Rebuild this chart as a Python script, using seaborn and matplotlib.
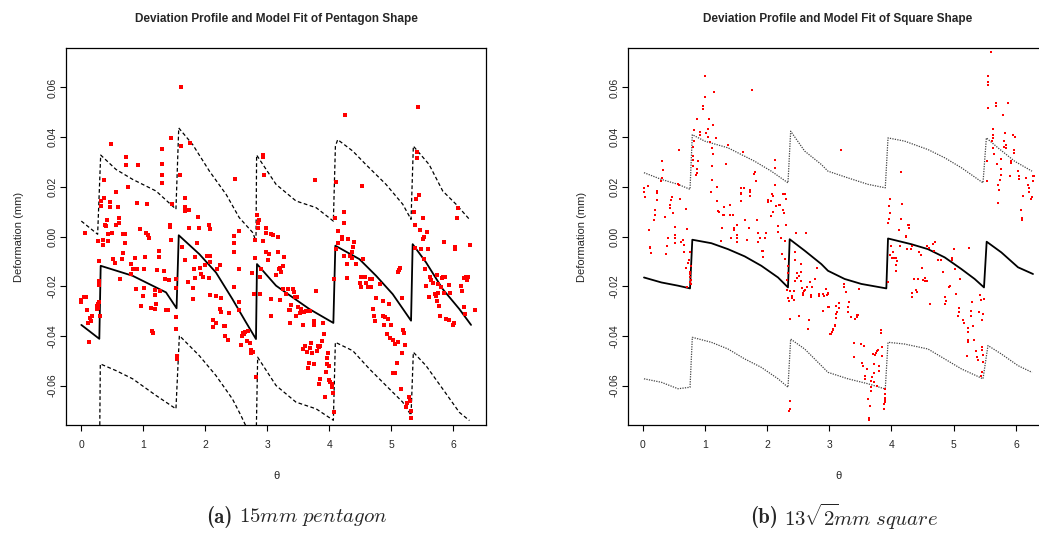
import matplotlib
matplotlib.use("Agg")
import matplotlib.pyplot as plt
import numpy as np
import pandas as pd
import seaborn as sns

# ---------------- data: pentagon (a) ----------------
pent_fit_x = [0.005, 0.295, 0.317, 0.83, 1.37, 1.54, 1.575, 1.907, 2.175, 2.44, 2.66, 2.82,
              2.836, 3.143, 3.41, 3.68, 4.067, 4.099, 4.486, 4.755, 5.023, 5.319,
              5.345, 5.56, 5.83, 6.097, 6.286]
pent_fit_y = [-0.0356, -0.0412, -0.0118, -0.0158, -0.0225, -0.0289, 0.0005, -0.0071, -0.0145, -0.0252, -0.0346, -0.0413,
              -0.0111, -0.0198, -0.0245, -0.0292, -0.0348, -0.0037, -0.0091, -0.0158, -0.0232, -0.0339,
              -0.0031, -0.0104, -0.0212, -0.0292, -0.0356]

pent_up_x = [0.005, 0.268, 0.317, 0.564, 0.832, 1.21, 1.53, 1.575, 1.8, 2.07, 2.34, 2.55, 2.77, 2.82,
             2.83, 3.143, 3.465, 3.79, 4.067, 4.10, 4.137, 4.38, 4.59, 4.915, 5.185, 5.319,
             5.356, 5.61, 5.83, 6.044, 6.26]
pent_up_y = [0.0062, 0.0009, 0.0328, 0.0270, 0.0230, 0.0183, 0.0110, 0.0437, 0.0370, 0.0263, 0.0169, 0.0076, 0.0015, -0.002,
             0.0328, 0.0210, 0.0143, 0.0116, 0.0062, 0.0364, 0.0390, 0.0344, 0.0290, 0.0210, 0.0130, 0.0069,
             0.0364, 0.0290, 0.0183, 0.0130, 0.0069]

pent_lo_x = [0.005, 0.30, 0.311, 0.564, 0.832, 1.208, 1.53, 1.585, 1.907, 2.175, 2.44, 2.578, 2.82,
             2.847, 3.143, 3.465, 3.79, 4.067, 4.099, 4.38, 4.647, 4.915, 5.185, 5.319,
             5.356, 5.56, 5.83, 6.097, 6.26]
pent_lo_y = [-0.078, -0.084, -0.0513, -0.0540, -0.0573, -0.0640, -0.0694, -0.0399, -0.0480, -0.0560, -0.0654, -0.0721, -0.085,
             -0.0486, -0.0600, -0.0667, -0.0694, -0.0740, -0.0426, -0.0460, -0.0533, -0.0600, -0.0667, -0.0720,
             -0.0466, -0.0520, -0.0614, -0.0708, -0.0741]

pent_pts_x = [
    1.617, 0.489, 1.456, 1.311, 0.730, 0.730, 0.924, 1.311, 1.311, 1.311, 1.601, 1.606, 1.762, 0.376, 0.569,
    0.763, 0.327, 0.376, 0.472, 0.472, 0.601, 0.908, 1.069, 1.472, 1.681, 1.681, 1.681, 1.746, 0.424, 0.618,
    0.618, 0.569, 0.392, 0.408, 0.327, 0.070, 0.440, 0.505, 0.682, 0.714, 0.956, 1.053, 1.085, 1.439, 1.439,
    1.746, 1.907, 1.891, 2.068, 2.084, 2.487, 2.551, 2.471, 2.938, 2.938, 2.954, 2.842, 2.874, 2.858, 2.858,
    2.987, 2.987, 3.067, 3.099,
    4.260, 5.437, 3.777, 4.115, 4.534, 5.421, 5.421, 5.453, 5.405, 4.244, 4.099, 4.244, 5.372, 5.517, 4.148,
    4.212, 5.388, 5.469, 5.582, 5.534, 6.065, 6.081, 3.170,
    0.279, 0.360, 0.440, 0.360, 0.714, 1.101, 1.450, 1.633, 1.864, 2.471, 2.809, 2.927, 0.671, 1.262, 0.295,
    0.521, 0.666, 0.865, 1.037, 1.262, 1.681, 1.842, 2.036, 2.084, 2.084, 2.245, 2.471, 2.551, 2.987, 3.035,
    3.019, 0.548, 0.806, 0.908, 0.838, 0.811, 1.020, 1.230, 1.343, 1.826, 1.923, 1.939, 2.197, 2.003, 2.809,
    2.761, 2.890, 2.906, 0.634, 1.359, 1.423, 1.531, 1.730, 1.842, 1.971, 2.068, 2.471, 0.295, 0.295, 0.891,
    1.020, 1.004, 1.198, 1.198, 1.278, 1.536, 1.810, 1.810, 2.084, 2.181, 2.261, 2.793, 2.890, 2.551, 3.067,
    0.005, 0.053, 0.086, 0.005, 0.268, 0.263, 0.279, 0.258, 0.295, 0.102, 0.182, 0.150, 0.166, 0.118, 0.972,
    1.133, 1.198, 1.214, 1.375, 1.407, 1.536, 2.245, 2.261, 2.390, 2.551, 3.067, 2.132, 2.181, 2.132, 2.310,
    2.326, 1.536, 1.149, 1.165, 2.326, 2.374, 2.616, 2.632, 2.648, 2.697, 2.600, 2.584, 2.681, 2.729, 0.134,
    2.745, 2.745, 2.777, 1.547, 1.547, 2.825, 0.300,
    3.181, 3.277, 3.261, 3.213, 3.197, 3.229, 3.148, 3.213, 3.261, 3.342, 3.422, 3.438, 3.310, 3.455, 3.487,
    3.793, 3.390, 3.358, 3.374, 3.503, 3.551, 3.535, 3.471, 3.374, 3.584, 3.761, 3.761, 3.906, 3.600, 3.632,
    3.696, 4.148, 4.115, 4.212, 4.309, 4.405, 4.389, 4.244, 4.341, 4.373, 4.373, 4.293, 4.550, 4.438, 4.083,
    4.293, 4.518, 4.583, 4.663, 4.695, 4.599, 4.502, 4.518, 4.631, 4.679, 4.824, 4.760, 4.873, 4.969, 4.712,
    4.728, 4.744, 4.873, 4.905, 4.953, 4.889, 5.002, 4.937, 4.986, 5.034, 5.066, 5.115, 5.227, 5.131, 5.147,
    5.115, 5.179, 5.195, 5.211, 3.917, 3.890, 3.712, 3.616, 3.584, 3.696, 3.648, 3.729, 3.809, 3.841, 3.857,
    3.825, 3.986, 3.970, 3.680, 3.761, 3.664, 3.970, 4.003, 3.954, 3.857, 4.003, 3.841, 4.019, 4.051, 4.051,
    4.067, 3.938, 4.083, 5.179, 5.098, 5.034, 5.066, 5.163, 5.292, 5.308, 5.260, 5.244, 5.324, 5.324, 5.517,
    5.856, 6.033, 6.033, 6.275, 5.388, 5.485, 5.598, 5.534, 5.550, 5.630, 5.566, 5.646, 5.743, 5.840, 5.872,
    5.824, 5.679, 5.759, 5.808, 5.936, 6.178, 6.210, 6.227, 6.243, 6.130, 6.146, 5.953, 5.856, 5.759, 5.727,
    5.614, 5.711, 5.743, 5.775, 5.791, 5.888, 5.936, 6.017, 6.001, 6.178, 6.194, 6.355,
]
pent_pts_y = [
    0.0601, 0.0372, 0.0396, 0.0352, 0.0319, 0.0287, 0.0286, 0.0291, 0.0247, 0.0215, 0.0247, 0.0364, 0.0376, 0.0227, 0.0179,
    0.0199, 0.0143, 0.0155, 0.0139, 0.0118, 0.0118, 0.0135, 0.0131, 0.0131, 0.0155, 0.0118, 0.0102, 0.0106, 0.0066, 0.0073,
    0.0054, 0.0046, 0.0046, 0.0042, 0.0122, 0.0014, 0.0010, 0.0014, 0.0010, 0.0010, 0.0030, 0.0014, 0.0006, 0.0046, 0.0038,
    0.0034, 0.0034, 0.0078, 0.0046, 0.0030, 0.0231, 0.0022, 0.0002, 0.0328, 0.0319, 0.0247, 0.0086, 0.0066, 0.0054, 0.0034,
    0.0034, 0.0014, 0.0010, 0.0006,
    0.0488, 0.0520, 0.0227, 0.0219, 0.0203, 0.0340, 0.0315, 0.0167, 0.0151, 0.0098, 0.0074, 0.0054, 0.0098, 0.0074, 0.0022,
    -0.0002, 0.0046, 0.0026, 0.0018, -0.0002, 0.0074, 0.0114, -0.0002,
    -0.0020, -0.0013, -0.0017, -0.0035, -0.0027, -0.0007, -0.0016, -0.0043, -0.0027, -0.0027, -0.0013, -0.0019, -0.0067, -0.0060, -0.0099,
    -0.0092, -0.0091, -0.0087, -0.0083, -0.0083, -0.0095, -0.0083, -0.0080, -0.0080, -0.0104, -0.0113, -0.0064, -0.0129, -0.0064, -0.0071,
    -0.0095, -0.0107, -0.0111, -0.0131, -0.0131, -0.0149, -0.0131, -0.0133, -0.0138, -0.0131, -0.0127, -0.0153, -0.0131, -0.0115, -0.0087,
    -0.0145, -0.0163, -0.0131, -0.0173, -0.0172, -0.0175, -0.0172, -0.0182, -0.0169, -0.0163, -0.0169, -0.0205, -0.0178, -0.0196, -0.0212,
    -0.0208, -0.0240, -0.0217, -0.0236, -0.0218, -0.0208, -0.0208, -0.0253, -0.0236, -0.0240, -0.0249, -0.0232, -0.0232, -0.0262, -0.0252,
    -0.0254, -0.0245, -0.0245, -0.0265, -0.0272, -0.0279, -0.0287, -0.0292, -0.0265, -0.0295, -0.0321, -0.0328, -0.0339, -0.0348, -0.0280,
    -0.0287, -0.0291, -0.0272, -0.0296, -0.0296, -0.0323, -0.0293, -0.0305, -0.0309, -0.0296, -0.0320, -0.0336, -0.0348, -0.0364, -0.0360,
    -0.0360, -0.0372, -0.0380, -0.0388, -0.0400, -0.0417, -0.0388, -0.0392, -0.0384, -0.0380, -0.0400, -0.0437, -0.0421, -0.0429, -0.0425,
    -0.0457, -0.0469, -0.0466, -0.0480, -0.0493, -0.0565, -0.0319,
    -0.0062, -0.0083, -0.0119, -0.0125, -0.0129, -0.0142, -0.0155, -0.0257, -0.0210, -0.0210, -0.0210, -0.0225, -0.0233, -0.0244, -0.0245,
    -0.0220, -0.0276, -0.0295, -0.0295, -0.0285, -0.0292, -0.0308, -0.0319, -0.0348, -0.0356, -0.0342, -0.0356, -0.0348, -0.0303, -0.0300,
    -0.0300, -0.0027, -0.0051, -0.0011, -0.0011, -0.0023, -0.0043, -0.0079, -0.0079, -0.0063, -0.0087, -0.0111, -0.0091, -0.0111, -0.0173,
    -0.0167, -0.0163, -0.0163, -0.0172, -0.0172, -0.0188, -0.0188, -0.0204, -0.0204, -0.0204, -0.0192, -0.0248, -0.0261, -0.0272, -0.0292,
    -0.0320, -0.0340, -0.0320, -0.0324, -0.0332, -0.0356, -0.0356, -0.0392, -0.0409, -0.0417, -0.0433, -0.0425, -0.0437, -0.0134, -0.0127,
    -0.0142, -0.0248, -0.0376, -0.0388, -0.0392, -0.0421, -0.0429, -0.0441, -0.0453, -0.0449, -0.0465, -0.0469, -0.0461, -0.0445, -0.0441,
    -0.0441, -0.0469, -0.0489, -0.0509, -0.0513, -0.0531, -0.0513, -0.0521, -0.0545, -0.0573, -0.0579, -0.0594, -0.0586, -0.0594, -0.0606,
    -0.0631, -0.0647, -0.0706, -0.0469, -0.0509, -0.0549, -0.0549, -0.0614, -0.0646, -0.0663, -0.0671, -0.0687, -0.0703, -0.0731, -0.0011,
    -0.0023, -0.0043, -0.0051, -0.0035, -0.0047, -0.0051, -0.0051, -0.0091, -0.0131, -0.0163, -0.0200, -0.0175, -0.0155, -0.0163, -0.0163,
    -0.0167, -0.0188, -0.0192, -0.0204, -0.0196, -0.0167, -0.0163, -0.0175, -0.0163, -0.0200, -0.0220, -0.0229, -0.0228, -0.0228, -0.0240,
    -0.0244, -0.0232, -0.0260, -0.0280, -0.0320, -0.0332, -0.0337, -0.0350, -0.0356, -0.0284, -0.0312, -0.0297,
]

# ---------------- data: square (b) ----------------
sq_fit_x = [0.021, 0.30, 0.568, 0.761, 0.798, 1.104, 1.372, 1.64, 1.908, 2.176, 2.336,
            2.363, 2.604, 2.872, 2.979, 3.247, 3.515, 3.917,
            3.944, 4.319, 4.587, 4.855, 5.123, 5.337, 5.487,
            5.53, 5.766, 6.034, 6.275]
sq_fit_y = [-0.0165, -0.0185, -0.0198, -0.0209, -0.0013, -0.0027, -0.0051, -0.0080, -0.0118, -0.0165, -0.0205,
            -0.0011, -0.0057, -0.0111, -0.0138, -0.0171, -0.0191, -0.0209,
            -0.0008, -0.0031, -0.0051, -0.0084, -0.0131, -0.0171, -0.0205,
            -0.0021, -0.0064, -0.0124, -0.0151]

sq_up_x = [0.021, 0.30, 0.568, 0.761, 0.798, 0.997, 1.372, 1.80, 2.068, 2.336,
           2.379, 2.604, 2.872, 2.979, 3.30, 3.622, 3.90,
           3.944, 4.211, 4.587, 4.855, 5.123, 5.471,
           5.525, 5.712, 5.98, 6.259]
sq_up_y = [0.0257, 0.0230, 0.0210, 0.0190, 0.0410, 0.0384, 0.0357, 0.0303, 0.0263, 0.0216,
           0.0424, 0.0344, 0.0290, 0.0263, 0.0236, 0.0210, 0.0196,
           0.0397, 0.0384, 0.0350, 0.0317, 0.0277, 0.0216,
           0.0397, 0.0357, 0.0303, 0.0263]

sq_lo_x = [0.021, 0.30, 0.568, 0.761, 0.798, 1.104, 1.372, 1.64, 1.908, 2.176, 2.336,
           2.379, 2.604, 2.872, 2.979, 3.30, 3.622, 3.90,
           3.944, 4.211, 4.587, 4.855, 5.123, 5.471,
           5.551, 5.766, 6.034, 6.259]
sq_lo_y = [-0.0573, -0.0587, -0.0613, -0.0607, -0.0406, -0.0426, -0.0453, -0.0493, -0.0527, -0.0573, -0.0607,
           -0.0413, -0.0453, -0.0520, -0.0547, -0.0573, -0.0593, -0.0614,
           -0.0426, -0.0433, -0.0453, -0.0493, -0.0533, -0.0573,
           -0.0439, -0.0473, -0.0520, -0.0547]

sq_pts_x = [
    1.002, 1.758, 1.147, 1.002, 0.970, 0.970, 0.873, 1.066, 1.131, 0.825, 0.922, 0.922, 1.018, 1.050, 1.050,
    1.179, 1.082, 1.114, 1.131, 1.372, 0.584, 0.809, 0.825, 0.809, 0.809, 0.311, 0.889, 0.327, 0.809, 0.873,
    0.873, 0.857, 1.114, 1.340, 1.613, 2.127, 2.127, 1.806, 1.790, 1.822, 2.127, 0.311, 0.295, 0.568, 0.584,
    0.086, 0.021, 0.021, 0.230, 0.230, 0.037, 0.471, 1.114, 1.098, 1.195, 1.581, 1.629, 1.725, 1.725, 1.581,
    1.581, 1.725, 2.079, 2.095, 2.256, 2.288, 2.063, 2.015, 2.015, 0.230, 0.455, 0.600, 1.195, 1.581, 2.304,
    1.404, 1.307, 0.439, 0.439, 2.143, 2.192, 2.208, 0.198, 0.696, 1.211, 1.227, 2.095, 2.256, 2.272, 0.198,
    0.487, 1.291, 1.307, 1.404, 1.452, 2.063, 0.182, 0.359, 1.645, 1.838, 1.516, 1.468, 1.468, 1.275, 1.709,
    2.176, 2.304, 0.102, 0.520, 0.713, 0.520, 1.516, 1.854, 1.983, 2.176, 2.465, 2.626,
    5.594, 5.546, 5.546, 5.551, 5.551, 5.675, 5.675, 5.873, 5.787, 5.626, 5.626, 5.626, 5.610, 5.819, 5.948,
    5.980, 5.803, 5.835, 5.835, 5.803, 5.626, 5.642, 5.964, 5.964, 3.183, 4.153, 5.530, 5.691, 5.755, 5.916,
    5.916, 5.755, 5.755, 5.900, 6.028, 6.044, 6.044, 6.157, 5.744, 5.530, 5.707, 5.723, 6.194, 6.269, 6.286,
    6.269, 6.205, 6.205, 6.114, 6.253, 6.237, 3.970, 4.163, 3.954, 5.712, 3.970, 3.954, 3.938, 4.147, 4.260,
    4.276, 4.276, 4.115, 4.228, 6.077, 6.093, 6.093,
    0.402, 0.514, 0.643, 0.514, 0.611, 0.112, 0.112, 0.386, 0.128, 0.375, 0.659, 0.659, 0.755, 0.739, 0.723,
    0.691, 0.772, 0.755, 0.755, 0.755, 0.772, 0.755, 0.772, 0.707, 1.254, 1.415, 1.511, 1.511, 1.672, 1.881,
    1.961, 1.849, 1.913, 1.929, 1.929, 2.218, 2.283, 2.235, 2.283, 2.331, 2.331, 2.315, 2.444, 2.444, 2.476,
    2.476, 2.444, 2.540, 2.540, 2.508, 2.540, 2.556, 2.588, 2.604, 2.572, 2.572, 2.636, 2.685, 2.717, 2.701,
    2.701, 2.765, 2.797, 2.829, 2.829, 2.894, 2.910, 2.942, 2.974, 2.958, 2.363, 2.427, 2.395, 2.331, 2.347,
    2.395, 2.427, 2.315, 2.363, 2.508, 2.669, 2.653, 2.990, 2.894, 3.103, 3.119, 3.103, 3.087, 3.054, 3.038,
    3.006, 2.363, 2.363, 2.347,
    4.233, 3.997, 4.029, 3.981, 4.013, 4.045, 4.078, 4.094, 4.078, 4.072, 4.137, 4.244, 4.324, 4.308, 4.442,
    4.469, 4.565, 4.597, 4.662, 4.694, 4.678, 4.742, 4.790, 4.999, 5.241, 4.967, 4.967, 5.015, 4.828, 4.490,
    3.944, 4.362, 4.426, 4.512, 4.533, 4.544, 4.565, 4.388, 4.404, 4.324, 4.324, 4.619, 4.855, 4.871, 4.855,
    4.935, 4.919, 5.031, 5.101, 3.231, 3.236, 3.263, 3.472, 2.979, 2.979, 3.156, 3.156, 3.317, 3.301, 3.301,
    3.113, 3.102, 3.343, 3.445, 3.461, 3.445, 3.413, 3.092, 3.059, 3.049, 3.033, 3.831, 3.831, 3.397, 3.515,
    3.558, 5.085, 5.085, 5.069, 5.149, 5.166, 5.278, 5.278, 5.294, 5.417, 5.444, 5.482, 5.412, 5.476, 5.455,
    5.310, 5.230, 5.230, 5.230, 5.230, 5.321, 5.364, 5.460, 5.460, 5.471, 5.375, 5.396, 5.214, 3.842, 3.778,
    3.761, 3.745, 3.729, 3.697, 3.842, 3.392, 3.526, 3.536, 3.601, 3.713, 3.794, 3.794, 3.713, 3.569, 3.569,
    3.681, 3.676, 3.713, 3.665, 3.665, 3.772, 3.890, 3.890, 3.890, 3.901, 3.890, 3.885, 3.885, 3.627, 3.649,
    3.633, 3.633, 5.450, 5.444, 5.471,
]
sq_pts_y = [
    0.0648, 0.0591, 0.0583, 0.0563, 0.0527, 0.0515, 0.0475, 0.0475, 0.0447, 0.0427, 0.0419, 0.0407, 0.0415, 0.0431, 0.0399,
    0.0395, 0.0382, 0.0358, 0.0334, 0.0370, 0.0350, 0.0362, 0.0386, 0.0326, 0.0310, 0.0306, 0.0306, 0.0266, 0.0282, 0.0270,
    0.0254, 0.0246, 0.0282, 0.0290, 0.0342, 0.0310, 0.0274, 0.0258, 0.0250, 0.0222, 0.0206, 0.0234, 0.0222, 0.0210, 0.0206,
    0.0202, 0.0194, 0.0181, 0.0185, 0.0177, 0.0161, 0.0161, 0.0226, 0.0181, 0.0198, 0.0194, 0.0194, 0.0189, 0.0181, 0.0177,
    0.0173, 0.0165, 0.0173, 0.0165, 0.0173, 0.0173, 0.0141, 0.0145, 0.0137, 0.0145, 0.0145, 0.0149, 0.0141, 0.0141, 0.0149,
    0.0125, 0.0117, 0.0125, 0.0113, 0.0121, 0.0125, 0.0125, 0.0105, 0.0109, 0.0101, 0.0097, 0.0097, 0.0105, 0.0093, 0.0085,
    0.0093, 0.0085, 0.0085, 0.0085, 0.0085, 0.0081, 0.0065, 0.0077, 0.0065, 0.0065, 0.0045, 0.0033, 0.0026, 0.0033, 0.0033,
    0.0041, 0.0045, 0.0025, 0.0037, 0.0029, 0.0005, 0.0005, 0.0013, 0.0013, 0.0017, 0.0013, 0.0013,
    0.0744, 0.0648, 0.0624, 0.0612, 0.0519, 0.0539, 0.0527, 0.0539, 0.0491, 0.0431, 0.0407, 0.0395, 0.0386, 0.0415, 0.0407,
    0.0399, 0.0386, 0.0370, 0.0358, 0.0362, 0.0358, 0.0334, 0.0350, 0.0338, 0.0350, 0.0258, 0.0302, 0.0290, 0.0314, 0.0302,
    0.0294, 0.0270, 0.0246, 0.0242, 0.0262, 0.0242, 0.0230, 0.0234, 0.0226, 0.0222, 0.0206, 0.0189, 0.0206, 0.0242, 0.0242,
    0.0222, 0.0194, 0.0181, 0.0165, 0.0161, 0.0153, 0.0149, 0.0129, 0.0121, 0.0133, 0.0093, 0.0069, 0.0053, 0.0069, 0.0045,
    0.0045, 0.0033, 0.0025, 0.0001, 0.0105, 0.0073, 0.0065,
    -0.0008, -0.0008, -0.0013, -0.0025, -0.0024, -0.0041, -0.0048, -0.0040, -0.0068, -0.0072, -0.0036, -0.0063, -0.0064, -0.0096, -0.0108,
    -0.0128, -0.0120, -0.0141, -0.0153, -0.0165, -0.0177, -0.0185, -0.0193, -0.0205, -0.0020, -0.0008, -0.0008, -0.0024, -0.0016, -0.0008,
    -0.0008, -0.0024, -0.0060, -0.0060, -0.0084, -0.0008, -0.0020, -0.0072, -0.0092, -0.0120, -0.0145, -0.0177, -0.0064, -0.0096, -0.0145,
    -0.0169, -0.0181, -0.0112, -0.0141, -0.0161, -0.0181, -0.0209, -0.0221, -0.0217, -0.0229, -0.0236, -0.0205, -0.0185, -0.0205, -0.0237,
    -0.0245, -0.0173, -0.0125, -0.0233, -0.0241, -0.0233, -0.0241, -0.0213, -0.0229, -0.0237, -0.0221, -0.0221, -0.0241, -0.0249, -0.0261,
    -0.0249, -0.0257, -0.0216, -0.0334, -0.0321, -0.0338, -0.0374, -0.0285, -0.0301, -0.0281, -0.0305, -0.0330, -0.0358, -0.0378, -0.0386,
    -0.0394, -0.0663, -0.0694, -0.0702,
    0.0000, -0.0037, -0.0064, -0.0075, -0.0088, -0.0087, -0.0087, -0.0099, -0.0116, -0.0137, -0.0039, -0.0052, -0.0040, -0.0052, -0.0064,
    -0.0075, -0.0040, -0.0047, -0.0032, -0.0021, -0.0060, -0.0094, -0.0096, -0.0052, -0.0048, -0.0087, -0.0094, -0.0129, -0.0141, -0.0126,
    -0.0185, -0.0173, -0.0173, -0.0177, -0.0181, -0.0166, -0.0178, -0.0216, -0.0225, -0.0229, -0.0242, -0.0273, -0.0245, -0.0261, -0.0273,
    -0.0201, -0.0205, -0.0233, -0.0173, -0.0193, -0.0204, -0.0222, -0.0213, -0.0233, -0.0283, -0.0269, -0.0288, -0.0265, -0.0285, -0.0305,
    -0.0312, -0.0330, -0.0326, -0.0317, -0.0317, -0.0326, -0.0334, -0.0362, -0.0374, -0.0385, -0.0391, -0.0375, -0.0390, -0.0427, -0.0431,
    -0.0439, -0.0289, -0.0305, -0.0319, -0.0338, -0.0350, -0.0301, -0.0319, -0.0265, -0.0237, -0.0254, -0.0253, -0.0303, -0.0311, -0.0338,
    -0.0362, -0.0370, -0.0386, -0.0418, -0.0426, -0.0418, -0.0462, -0.0443, -0.0458, -0.0478, -0.0485, -0.0498, -0.0480, -0.0446, -0.0458,
    -0.0462, -0.0469, -0.0478, -0.0474, -0.0482, -0.0486, -0.0508, -0.0520, -0.0535, -0.0514, -0.0522, -0.0543, -0.0551, -0.0563, -0.0573,
    -0.0567, -0.0583, -0.0587, -0.0607, -0.0623, -0.0603, -0.0614, -0.0635, -0.0651, -0.0659, -0.0667, -0.0675, -0.0695, -0.0655, -0.0681,
    -0.0732, -0.0740, -0.0547, -0.0563, -0.0506,
]

x_ticks = [0, 1, 2, 3, 4, 5, 6]
y_ticks = [-0.06, -0.04, -0.02, 0.00, 0.02, 0.04, 0.06]
titles = ["Deviation Profile and Model Fit of Pentagon Shape",
          "Deviation Profile and Model Fit of Square Shape"]
caption_tags = ["(a)", "(b)"]
caption_texts = [r"$15\mathit{mm\ pentagon}$", r"$13\sqrt{2}\!\mathit{mm\ square}$"]

# ---------------- styling ----------------
sns.set_theme(style="white")
plt.rcParams['font.family'] = ['Liberation Sans', 'DejaVu Sans']
plt.rcParams['mathtext.fontset'] = 'cm'

W, H = 1039, 537
fig = plt.figure(figsize=(W / 100, H / 100), dpi=100)
fig.patch.set_facecolor("white")

ax_a = fig.add_axes([66 / W, 1 - 425 / H, 420 / W, 377 / H])
ax_b = fig.add_axes([628 / W, 1 - 425 / H, 420 / W, 377 / H])


def draw_lines(ax, fx, fy, ux, uy, lx, ly, band_style, band_color, band_lw):
    sns.lineplot(x=fx, y=fy, sort=False, estimator=None, color="black", lw=1.3, ax=ax)
    for bx, by in ((ux, uy), (lx, ly)):
        sns.lineplot(x=bx, y=by, sort=False, estimator=None, color=band_color,
                     lw=band_lw, linestyle=band_style, ax=ax)


# panel (a)
draw_lines(ax_a, pent_fit_x, pent_fit_y, pent_up_x, pent_up_y, pent_lo_x, pent_lo_y,
           (0, (3, 2)), "black", 0.9)
sns.scatterplot(x=pent_pts_x, y=pent_pts_y, marker="s", s=9, color="red", linewidth=0, ax=ax_a, zorder=3)

# panel (b)
draw_lines(ax_b, sq_fit_x, sq_fit_y, sq_up_x, sq_up_y, sq_lo_x, sq_lo_y,
           (0, (1, 1)), "#444444", 0.9)
sns.scatterplot(x=sq_pts_x, y=sq_pts_y, marker="s", s=4, color="red", linewidth=0, ax=ax_b, zorder=3)

limits = [(-0.242, 6.527), (-0.236, 6.516)]
ylab_x = [(24 - 66) / 420, (587 - 628) / 420]
for ax, title, xl, yx in zip((ax_a, ax_b), titles, limits, ylab_x):
    ax.set_xlim(*xl)
    ax.set_ylim(-0.0759, 0.0759)
    ax.set_xticks(x_ticks)
    ax.set_xticklabels([str(t) for t in x_ticks])
    ax.set_yticks(y_ticks)
    ax.set_yticklabels([f"{t:.2f}" for t in y_ticks])
    ax.tick_params(axis="both", which="both", direction="out", length=4.5, width=0.8,
                   color="black", labelsize=7.5, bottom=True, left=True)
    ax.tick_params(axis="x", pad=6)
    ax.tick_params(axis="y", pad=1.5)
    for lab in ax.get_yticklabels():
        lab.set_rotation(90)
        lab.set_va("center")
    for sp in ax.spines.values():
        sp.set_visible(True)
        sp.set_color("black")
        sp.set_linewidth(0.9)
    ax.set_title(title, fontsize=8.5, fontweight="bold", pad=19)
    ax.set_xlabel("θ", fontsize=8)
    ax.xaxis.set_label_coords(0.5, -(471 - 425) / 377)
    ax.set_ylabel("Deformation (mm)", fontsize=8)
    ax.yaxis.set_label_coords(yx, 0.5)
    ax.grid(False)

cap_y = 1 - 517 / H
for tag, txt, x_tag, x_txt in zip(caption_tags, caption_texts, (233, 778), (239, 784)):
    fig.text(x_tag / W, cap_y, tag, ha="right", va="center", fontsize=15, family="cmb10")
    fig.text(x_txt / W, cap_y, txt, ha="left", va="center", fontsize=15)

fig.savefig("out.png", dpi=100, facecolor="white")
